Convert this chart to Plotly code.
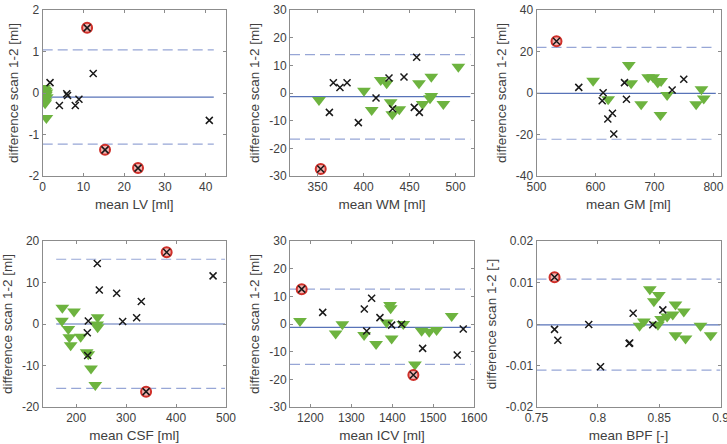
import plotly.graph_objects as go

# ---------------- data ----------------
lv_cross_x = [1.8, 4.1, 5.9, 6.1, 8.0, 8.9, 12.4, 40.9, 10.9, 15.3, 23.4]
lv_cross_y = [0.25, -0.30, -0.02, -0.06, -0.30, -0.15, 0.47, -0.66, 1.57, -1.37, -1.81]
lv_out_x = [10.9, 15.3, 23.4]
lv_out_y = [1.57, -1.37, -1.81]
lv_tri_x = [0.3, 0.5, 0.7, 0.4, 0.9, 0.6, 0.8, 0.5, 1.0, 0.7, 0.6, 0.9]
lv_tri_y = [0.12, 0.08, 0.05, 0.03, 0.01, -0.02, -0.04, -0.07, -0.10, -0.20, -0.25, -0.60]
lv_stats = [-0.1, 1.04, -1.23]

wm_cross_x = [362.8, 367.1, 374.3, 382.0, 394.3, 413.5, 427.6, 431.6, 443.9, 455.1, 457.7, 460.6, 353.4]
wm_cross_y = [-7.0, 3.7, 2.0, 3.7, -10.7, -1.8, 5.4, -5.7, 5.8, -5.2, 12.9, -7.0, -27.5]
wm_out_x = [353.4]
wm_out_y = [-27.5]
wm_tri_x = [351.5, 400.4, 408.8, 418.6, 425.1, 429.4, 431.2, 438.8, 460.2, 464.2, 473.6, 472.2, 473.6, 486.7, 503.0]
wm_tri_y = [-2.5, 0.8, -6.1, 4.7, 3.5, -3.3, -7.7, -5.9, 3.5, -4.0, 5.9, -1.9, -1.1, -4.0, 9.5]
wm_stats = [-1.3, 13.9, -16.7]

gm_cross_x = [571.7, 613.0, 611.4, 620.9, 628.8, 631.0, 649.2, 652.5, 730.0, 749.7, 533.9]
gm_cross_y = [2.7, 0.1, -3.7, -12.5, -9.8, -19.8, 5.0, -3.0, 1.4, 6.6, 24.9]
gm_out_x = [533.9]
gm_out_y = [24.9]
gm_tri_x = [596.0, 621.5, 656.5, 660.5, 677.5, 689.3, 697.8, 705.6, 711.3, 710.2, 721.5, 770.7, 779.7, 783.6]
gm_tri_y = [5.9, -3.0, 13.5, 4.7, -5.4, 7.6, 7.6, 5.0, 5.8, -10.6, -1.0, -5.4, 1.8, -2.6]
gm_stats = [-0.2, 22.0, -22.3]

csf_cross_x = [242.3, 246.3, 281.1, 330.4, 321.1, 293.1, 224.3, 222.3, 223.0, 474.1, 381.2, 340.0]
csf_cross_y = [14.6, 8.2, 7.4, 5.4, 1.5, 0.6, 0.7, -2.1, -7.6, 11.6, 17.3, -16.3]
csf_out_x = [381.2, 340.0]
csf_out_y = [17.3, -16.3]
csf_tri_x = [172.3, 171.6, 184.3, 186.3, 189.0, 195.7, 209.0, 221.0, 224.3, 229.7, 238.3, 242.9, 242.0, 243.0]
csf_tri_y = [3.9, 0.8, -1.2, -3.2, -5.1, 3.0, -3.1, -6.8, -7.3, -10.7, -14.7, 1.6, -0.1, -0.8]
csf_stats = [0.0, 15.6, -15.5]

icv_cross_x = [1230.0, 1331.7, 1349.7, 1337.5, 1370.0, 1398.6, 1423.0, 1474.4, 1559.0, 1573.7, 1178.6, 1451.7]
icv_cross_y = [4.2, 5.4, 9.3, -2.5, 2.3, -0.4, -0.1, -8.8, -11.2, -1.8, 12.6, -18.4]
icv_out_x = [1178.6, 1451.7]
icv_out_y = [12.6, -18.4]
icv_tri_x = [1174.4, 1261.7, 1278.0, 1331.2, 1360.5, 1386.4, 1394.5, 1396.2, 1398.6, 1427.0, 1455.6, 1471.9, 1490.5, 1508.5, 1545.4]
icv_tri_y = [1.1, -3.4, -0.1, -4.0, -7.2, 0.5, 6.9, 5.7, -5.2, 0.0, -14.6, -2.4, -2.8, -2.2, 2.9]
icv_stats = [-1.2, 12.6, -14.6]

bpf_cross_x = [0.7647, 0.7674, 0.7926, 0.8022, 0.8255, 0.8260, 0.8288, 0.8448, 0.8530, 0.7647]
bpf_cross_y = [-0.0013, -0.0039, -0.0001, -0.0103, -0.0047, -0.0046, 0.0026, -0.0002, 0.0034, 0.01125]
bpf_out_x = [0.7647]
bpf_out_y = [0.01125]
bpf_tri_x = [0.8340, 0.8375, 0.8424, 0.8457, 0.8497, 0.8490, 0.8516, 0.8565, 0.8611, 0.8633, 0.8633, 0.8701, 0.8715, 0.8837, 0.8920]
bpf_tri_y = [-0.0004, 0.0006, 0.0084, 0.0055, 0.0070, -0.0002, 0.0012, 0.0018, 0.0023, 0.0047, -0.0027, 0.0030, -0.0035, -0.0004, -0.0027]
bpf_stats = [-0.0002, 0.0108, -0.0111]

x_titles = ["mean LV [ml]", "mean WM [ml]", "mean GM [ml]", "mean CSF [ml]", "mean ICV [ml]", "mean BPF [-]"]
y_titles = ["difference scan 1-2 [ml]"] * 5 + ["difference scan 1-2 [-]"]

x_ticks = [[0, 10, 20, 30, 40], [350, 400, 450, 500], [500, 600, 700, 800],
           [200, 300, 400, 500], [1200, 1300, 1400, 1500, 1600], [0.75, 0.8, 0.85, 0.9]]
x_ticktext = [["0", "10", "20", "30", "40"], ["350", "400", "450", "500"], ["500", "600", "700", "800"],
              ["200", "300", "400", "500"], ["1200", "1300", "1400", "1500", "1600"], ["0.75", "0.8", "0.85", "0.9"]]
y_ticks = [[-2, -1, 0, 1, 2], [-30, -20, -10, 0, 10, 20, 30], [-40, -20, 0, 20, 40],
           [-20, -10, 0, 10, 20], [-30, -20, -10, 0, 10, 20, 30], [-0.02, -0.01, 0, 0.01, 0.02]]
y_ticktext = [["-2", "-1", "0", "1", "2"], ["-30", "-20", "-10", "0", "10", "20", "30"],
              ["-40", "-20", "0", "20", "40"], ["-20", "-10", "0", "10", "20"],
              ["-30", "-20", "-10", "0", "10", "20", "30"], ["-0.02", "-0.01", "0", "0.01", "0.02"]]
x_ranges = [[0, 45], [320, 520], [500, 812], [133, 500.01], [1150, 1600.01], [0.75, 0.90001]]
y_ranges = [[-2, 2], [-30, 30], [-40, 40], [-20, 20], [-30, 30], [-0.02, 0.02]]
line_x = [[0, 42], [320, 516], [500, 804], [160, 498], [1150, 1592], [0.75, 0.9]]

panels = [
    (lv_cross_x, lv_cross_y, lv_out_x, lv_out_y, lv_tri_x, lv_tri_y, lv_stats),
    (wm_cross_x, wm_cross_y, wm_out_x, wm_out_y, wm_tri_x, wm_tri_y, wm_stats),
    (gm_cross_x, gm_cross_y, gm_out_x, gm_out_y, gm_tri_x, gm_tri_y, gm_stats),
    (csf_cross_x, csf_cross_y, csf_out_x, csf_out_y, csf_tri_x, csf_tri_y, csf_stats),
    (icv_cross_x, icv_cross_y, icv_out_x, icv_out_y, icv_tri_x, icv_tri_y, icv_stats),
    (bpf_cross_x, bpf_cross_y, bpf_out_x, bpf_out_y, bpf_tri_x, bpf_tri_y, bpf_stats),
]

# ---------------- layout geometry ----------------
W, H = 727, 444
col_px = [(42.7, 226.0), (290.0, 474.0), (536.5, 720.5)]
row_px = [(10.0, 176.0), (241.0, 407.0)]

MEAN_COLOR = "#5873b8"
LOA_COLOR = "#97a6d6"
TRI_COLOR = "#6db33f"
TEXT_COLOR = "#404040"
AX_COLOR = "#8c8c8c"
CROSS_COLOR = "#1a1a1a"
FONT = "Liberation Sans, Arial, Helvetica, sans-serif"

fig = go.Figure()
layout = dict(
    width=W, height=H, margin=dict(l=0, r=0, t=0, b=0),
    paper_bgcolor="white", plot_bgcolor="white", showlegend=False,
    font=dict(family=FONT, size=12, color=TEXT_COLOR),
)

for i, (cx, cy, ox, oy, tx, ty, st) in enumerate(panels):
    r, c = divmod(i, 3)
    xa = "x" if i == 0 else f"x{i+1}"
    ya = "y" if i == 0 else f"y{i+1}"
    xk = "xaxis" if i == 0 else f"xaxis{i+1}"
    yk = "yaxis" if i == 0 else f"yaxis{i+1}"
    x0, x1 = col_px[c]
    y0, y1 = row_px[r]
    layout[xk] = dict(
        domain=[x0 / W, x1 / W], anchor=ya, range=x_ranges[i],
        tickvals=x_ticks[i], ticktext=x_ticktext[i], ticklabeloverflow="allow",
        showgrid=False, zeroline=False, showline=True, linecolor=AX_COLOR, linewidth=1,
        mirror="ticks", ticks="inside", ticklen=3, tickcolor=AX_COLOR,
        tickfont=dict(size=12, color=TEXT_COLOR), automargin=False,
        title=dict(text=x_titles[i], font=dict(size=13.5, color=TEXT_COLOR), standoff=6),
    )
    layout[yk] = dict(
        domain=[1 - y1 / H, 1 - y0 / H], anchor=xa, range=y_ranges[i],
        tickvals=y_ticks[i], ticktext=y_ticktext[i], ticklabeloverflow="allow",
        showgrid=False, zeroline=False, showline=True, linecolor=AX_COLOR, linewidth=1,
        mirror="ticks", ticks="inside", ticklen=3, tickcolor=AX_COLOR,
        tickfont=dict(size=12, color=TEXT_COLOR), automargin=False,
        title=dict(text=y_titles[i], font=dict(size=13.5, color=TEXT_COLOR), standoff=6),
    )
    lx = line_x[i]
    m, up, lo = st
    fig.add_trace(go.Scatter(x=lx, y=[m, m], mode="lines", xaxis=xa, yaxis=ya,
                             line=dict(color=MEAN_COLOR, width=1.2), hoverinfo="skip"))
    for v in (up, lo):
        fig.add_trace(go.Scatter(x=lx, y=[v, v], mode="lines", xaxis=xa, yaxis=ya,
                                 line=dict(color=LOA_COLOR, width=1.2, dash="10px,5px"),
                                 hoverinfo="skip"))
    fig.add_trace(go.Scatter(x=tx, y=ty, mode="markers", xaxis=xa, yaxis=ya,
                             marker=dict(symbol="triangle-down", size=12, color=TRI_COLOR,
                                         line=dict(width=0))))
    fig.add_trace(go.Scatter(x=ox, y=oy, mode="markers", xaxis=xa, yaxis=ya,
                             marker=dict(symbol="circle", size=10, color="#f3b3b0",
                                         line=dict(color="#d0302a", width=2))))
    fig.add_trace(go.Scatter(x=cx, y=cy, mode="markers", xaxis=xa, yaxis=ya,
                             marker=dict(symbol="x-thin-open", size=7, color=CROSS_COLOR,
                                         line=dict(color=CROSS_COLOR, width=1.5))))

fig.update_layout(**layout)
fig.write_html("out.html")
